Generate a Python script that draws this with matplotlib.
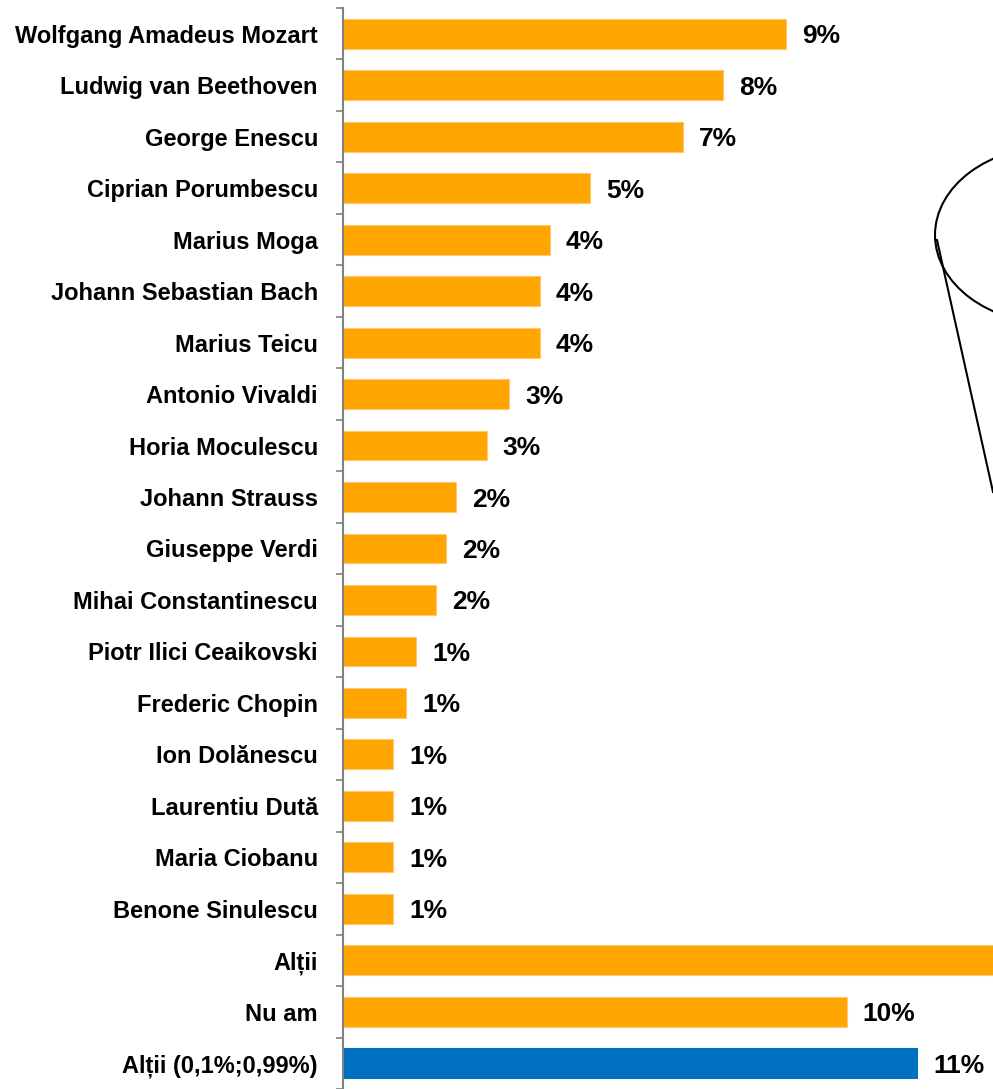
import matplotlib.pyplot as plt
import numpy as np
from matplotlib.patches import Ellipse

plt.rcParams['font.family'] = ['Liberation Sans', 'DejaVu Sans']

compozitori = ['Wolfgang Amadeus Mozart', 'Ludwig van Beethoven', 'George Enescu',
               'Ciprian Porumbescu', 'Marius Moga', 'Johann Sebastian Bach',
               'Marius Teicu', 'Antonio Vivaldi', 'Horia Moculescu', 'Johann Strauss',
               'Giuseppe Verdi', 'Mihai Constantinescu', 'Piotr Ilici Ceaikovski',
               'Frederic Chopin', 'Ion Dolănescu', 'Laurentiu Dută', 'Maria Ciobanu',
               'Benone Sinulescu', 'Alții', 'Nu am', 'Alții (0,1%;0,99%)']
procente = [8.8, 7.55, 6.75, 4.9, 4.1, 3.9, 3.9, 3.3, 2.85, 2.25, 2.05, 1.85,
            1.45, 1.25, 1.0, 1.0, 1.0, 1.0, 20.0, 10.0, 11.4]
etichete = ['9%', '8%', '7%', '5%', '4%', '4%', '4%', '3%', '3%', '2%', '2%', '2%',
            '1%', '1%', '1%', '1%', '1%', '1%', '', '10%', '11%']
culori = ['#FFA500'] * 20 + ['#0070C0']
margini = ['#FFC870'] * 20 + ['#0070C0']

W, H = 993, 1089
fig = plt.figure(figsize=(W / 100, H / 100), dpi=100)
ax = fig.add_axes([343 / W, 0, 1 - 343 / W, 1 - 8 / H])

y_pos = np.arange(len(compozitori))
ax.barh(y_pos, procente, height=0.58, color=culori, edgecolor=margini, linewidth=0.8)
ax.set_ylim(len(compozitori) - 0.5, -0.5)
ax.set_xlim(0, 12.9)

for y, v, t in zip(y_pos, procente, etichete):
    if t:
        ax.annotate(t, (v, y), xytext=(11.5, 0), textcoords='offset points',
                    ha='left', va='center_baseline', fontsize=19, fontweight='bold')

ax.set_yticks(y_pos)
ax.set_yticklabels(compozitori, fontsize=17, fontweight='bold')
ax.set_yticks(np.arange(len(compozitori) + 1) - 0.5, minor=True)
ax.tick_params(axis='y', which='major', length=0, pad=18)
ax.tick_params(axis='y', which='minor', length=5, width=1.2, color='#808080')
ax.set_xticks([])
for s in ['top', 'right', 'bottom']:
    ax.spines[s].set_visible(False)
ax.spines['left'].set_color('#808080')
ax.spines['left'].set_linewidth(1.5)

# callout partially visible at the right edge
ov = fig.add_axes([0, 0, 1, 1], facecolor='none')
ov.set_xlim(0, W)
ov.set_ylim(H, 0)
ov.axis('off')
ov.add_patch(Ellipse((1055, 235), 240, 178, fill=False, lw=1.5, ec='black'))
ov.plot([937, 993], [240, 492], color='black', lw=1.5)

fig.savefig('out.png', dpi=100)
